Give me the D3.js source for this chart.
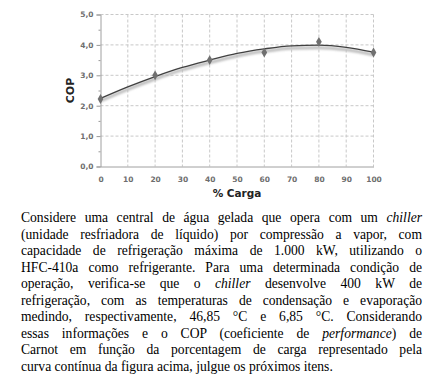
<!DOCTYPE html>
<html>
<head>
<meta charset="utf-8">
<script src="https://cdn.jsdelivr.net/npm/d3@7"></script>
<style>
  body { margin: 0; background: #fff; width: 429px; height: 384px; overflow: hidden; position: relative; }
  #chart { position: absolute; left: 0; top: 0; }
  #texto {
    position: absolute; left: 21px; top: 210px; width: 401px;
    font-family: "Liberation Serif", "Tinos", "DejaVu Serif", "Times New Roman", serif;
    font-size: 13.6px; line-height: 16.5px; color: #000;
  }
  #texto span { display: block; white-space: nowrap; text-align: justify; text-align-last: justify; }
  #texto span.ult { text-align-last: left; }
</style>
</head>
<body>
<div id="chart"></div>
<div id="texto">
<span>Considere uma central de água gelada que opera com um <i>chiller</i></span>
<span>(unidade resfriadora de líquido) por compressão a vapor, com</span>
<span>capacidade de refrigeração máxima de 1.000 kW, utilizando o</span>
<span>HFC-410a como refrigerante. Para uma determinada condição de</span>
<span>operação, verifica-se que o <i>chiller</i> desenvolve 400 kW de</span>
<span>refrigeração, com as temperaturas de condensação e evaporação</span>
<span>medindo, respectivamente, 46,85 °C e 6,85 °C. Considerando</span>
<span>essas informações e o COP (coeficiente de <i>performance</i>) de</span>
<span>Carnot em função da porcentagem de carga representado pela</span>
<span class="ult">curva contínua da figura acima, julgue os próximos itens.</span>
</div>
<script>
// measured points (markers)
var carga = [0, 20, 40, 60, 80, 100];
var cop = [2.22, 3.0, 3.5, 3.75, 4.1, 3.75];

// trend curve
var curvaX = [0, 10, 20, 30, 40, 50, 60, 70, 80, 90, 100];
var curvaY = [2.24, 2.62, 2.96, 3.26, 3.5, 3.72, 3.87, 3.97, 3.99, 3.92, 3.76];

var xTicks = [0, 10, 20, 30, 40, 50, 60, 70, 80, 90, 100];
var yTicks = [0, 1, 2, 3, 4, 5];

var svg = d3.select("#chart").append("svg")
  .attr("width", 429)
  .attr("height", 205);

var x = d3.scaleLinear().domain([0, 100]).range([100.5, 373.5]);
var y = d3.scaleLinear().domain([0, 5]).range([166.5, 14.5]);

var defs = svg.append("defs");
defs.append("filter").attr("id", "sombra")
  .attr("x", "-10%").attr("y", "-50%").attr("width", "120%").attr("height", "200%")
  .append("feGaussianBlur").attr("stdDeviation", 1.2);

// grid
svg.append("g").selectAll("line")
  .data(xTicks.slice(1))
  .enter().append("line")
  .attr("x1", d => x(d)).attr("x2", d => x(d))
  .attr("y1", y(5)).attr("y2", y(0))
  .attr("stroke", "#c8c8c8").attr("stroke-dasharray", "3,2");

svg.append("g").selectAll("line")
  .data(yTicks.slice(1))
  .enter().append("line")
  .attr("x1", x(0)).attr("x2", x(100))
  .attr("y1", d => y(d)).attr("y2", d => y(d))
  .attr("stroke", "#c8c8c8").attr("stroke-dasharray", "3,2");

// axes
var yAxis = d3.axisLeft(y).tickValues(yTicks).tickSize(4)
  .tickFormat(d => d3.format(".1f")(d).replace(".", ","));
var gy = svg.append("g").attr("transform", `translate(${x(0)},0)`).call(yAxis);

var yMinor = d3.axisLeft(y).tickValues(d3.range(0.5, 5, 1)).tickSize(2).tickFormat("");
svg.append("g").attr("transform", `translate(${x(0)},0)`).call(yMinor)
  .call(g => g.select(".domain").remove())
  .selectAll("line").attr("stroke", "#999");

var xAxis = d3.axisBottom(x).tickValues(xTicks).tickSize(0).tickPadding(10);
var gx = svg.append("g").attr("transform", `translate(0,${y(0)})`).call(xAxis);

[gx, gy].forEach(function(g) {
  g.select(".domain").attr("stroke", "#a0a0a0");
  g.selectAll(".tick line").attr("stroke", "#999");
  g.selectAll("text")
    .style("font", "bold 7.5px 'DejaVu Sans', Verdana, sans-serif")
    .attr("fill", "#6e6e6e");
});
gy.selectAll("text").attr("x", -7);

// curve
var linha = d3.line()
  .x(d => x(d[0]))
  .y(d => y(d[1]))
  .curve(d3.curveMonotoneX);
var pts = curvaX.map((d, i) => [d, curvaY[i]]);

svg.append("path")
  .datum(pts)
  .attr("d", linha)
  .attr("transform", "translate(0,2.5)")
  .attr("fill", "none")
  .attr("stroke", "#bdbdbd")
  .attr("stroke-width", 3)
  .attr("filter", "url(#sombra)");

svg.append("path")
  .datum(pts)
  .attr("d", linha)
  .attr("fill", "none")
  .attr("stroke", "#404040")
  .attr("stroke-width", 1.3);

// markers
svg.append("g").selectAll("path")
  .data(carga)
  .enter().append("path")
  .attr("transform", (d, i) => `translate(${x(d)},${y(cop[i])})`)
  .attr("d", d3.symbol().type(d3.symbolDiamond).size(28))
  .attr("fill", "#707070");

// titles
svg.append("text")
  .attr("transform", `translate(74, ${y(2.5)}) rotate(-90)`)
  .attr("text-anchor", "middle")
  .style("font", "bold 11px 'DejaVu Sans', Verdana, sans-serif")
  .attr("fill", "#222")
  .text("COP");

svg.append("text")
  .attr("x", (x(0) + x(100)) / 2)
  .attr("y", 197)
  .attr("text-anchor", "middle")
  .style("font", "bold 10.5px 'DejaVu Sans', Verdana, sans-serif")
  .attr("fill", "#222")
  .text("% Carga");
</script>
</body>
</html>
